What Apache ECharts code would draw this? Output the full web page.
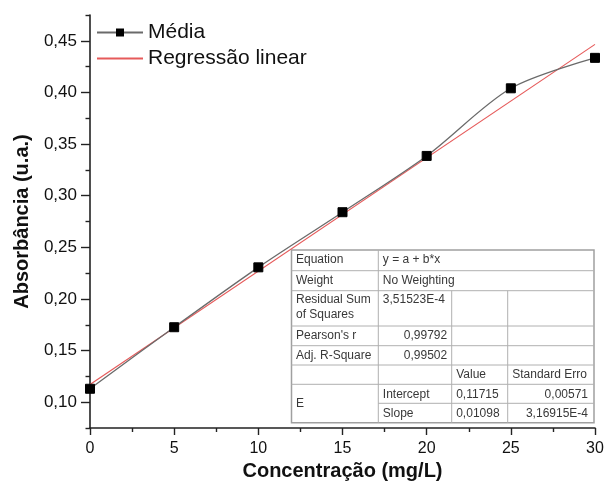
<!DOCTYPE html>
<html>
<head>
<meta charset="utf-8">
<script src="https://cdn.jsdelivr.net/npm/echarts@6/dist/echarts.min.js"></script>
<style>
  html, body { margin: 0; padding: 0; background: #ffffff; }
  #chart { width: 606px; height: 483px; }
</style>
</head>
<body>
<div id="chart"></div>
<script>
// Calibration data: mean absorbance per standard concentration
const concentracao = [0, 5, 10, 15, 20, 25, 30];
const media = [0.113, 0.1726, 0.2306, 0.284, 0.3385, 0.404, 0.4335];

// Linear fit coefficients (as reported in the fit table)
const fitIntercept = 0.11715;
const fitSlope = 0.01098;
const fitRange = [0, 30];

// Axis ticks
const xTicks = [0, 5, 10, 15, 20, 25, 30];
const yMajorTicks = [0.10, 0.15, 0.20, 0.25, 0.30, 0.35, 0.40, 0.45];
const yMinorTicks = [0.075, 0.125, 0.175, 0.225, 0.275, 0.325, 0.375, 0.425, 0.475];

// Fit report table contents
const tableLabels = ['Equation', 'Weight', 'Residual Sum\nof Squares', "Pearson's r", 'Adj. R-Square'];
const tableInfo = ['y = a + b*x', 'No Weighting', '3,51523E-4', '0,99792', '0,99502'];
const tableHeader = ['Value', 'Standard Erro'];
const paramGroup = 'E';
const paramNames = ['Intercept', 'Slope'];
const paramValues = ['0,11715', '0,01098'];
const paramErrors = ['0,00571', '3,16915E-4'];

const FONT = '"Liberation Sans", Arial, Helvetica, sans-serif';
const fmt = v => v.toFixed(2).replace('.', ',');

const fitLine = fitRange.map(x => [x, fitIntercept + fitSlope * x]);

// ---- fit table built from graphic primitives ----
function buildTable() {
  const ox = 291.5, oy = 250;
  const cols = [0, 86.8, 160.2, 216.2, 302.5];
  const rows = [0, 20.7, 40.7, 76, 95.7, 115, 134.3, 153.3, 172.7];
  const W = cols[4], H = rows[8];
  const lineStyle = { stroke: '#b0b0b0', lineWidth: 1 };
  const els = [];
  els.push({ type: 'rect', shape: { x: 0, y: 0, width: W, height: H },
             style: { fill: '#ffffff', stroke: '#a0a0a0', lineWidth: 1.5 } });
  // horizontal rules
  for (let i = 1; i < rows.length - 1; i++) {
    const x1 = (i === 7) ? cols[1] : 0;
    els.push({ type: 'line', shape: { x1: x1, y1: rows[i], x2: W, y2: rows[i] }, style: lineStyle });
  }
  // vertical rules
  els.push({ type: 'line', shape: { x1: cols[1], y1: 0, x2: cols[1], y2: H }, style: lineStyle });
  els.push({ type: 'line', shape: { x1: cols[2], y1: rows[2], x2: cols[2], y2: H }, style: lineStyle });
  els.push({ type: 'line', shape: { x1: cols[3], y1: rows[2], x2: cols[3], y2: H }, style: lineStyle });

  const txt = (s, x, y, align, vAlign) => ({
    type: 'text',
    style: { text: s, x: x, y: y, align: align || 'left', verticalAlign: vAlign || 'middle',
             font: '12px ' + FONT, fill: '#383838', lineHeight: 15 }
  });
  const pad = 4.5;
  // left label column
  tableLabels.forEach((s, i) => {
    if (s.indexOf('\n') >= 0) {
      els.push(txt(s, pad, rows[i] + 1.5, 'left', 'top'));
    } else {
      els.push(txt(s, pad, rows[i] + 10, 'left'));
    }
  });
  // info column
  els.push(txt(tableInfo[0], cols[1] + pad, rows[0] + 10));
  els.push(txt(tableInfo[1], cols[1] + pad, rows[1] + 10));
  els.push(txt(tableInfo[2], cols[1] + pad, rows[2] + 9));
  els.push(txt(tableInfo[3], cols[2] - pad, rows[3] + 10, 'right'));
  els.push(txt(tableInfo[4], cols[2] - pad, rows[4] + 10, 'right'));
  // header
  els.push(txt(tableHeader[0], cols[2] + pad, rows[5] + 10));
  els.push(txt(tableHeader[1], cols[3] + pad, rows[5] + 10));
  // parameters
  els.push(txt(paramGroup, pad, (rows[6] + rows[8]) / 2));
  paramNames.forEach((s, i) => {
    const yc = rows[6 + i] + 10;
    els.push(txt(s, cols[1] + pad, yc));
    els.push(txt(paramValues[i], cols[2] + pad, yc));
    els.push(txt(paramErrors[i], W - 6, yc, 'right'));
  });
  return { type: 'group', x: ox, y: oy, z: 100, children: els };
}

const chart = echarts.init(document.getElementById('chart'), null, { renderer: 'canvas' });

const axisLineStyle = { color: '#222222', width: 1.6 };
const tickStyle = { color: '#222222', width: 1.4 };

chart.setOption({
  backgroundColor: '#ffffff',
  animation: false,
  textStyle: { fontFamily: FONT },
  grid: { left: 90, right: 11, top: 15, bottom: 55, containLabel: false, outerBoundsMode: 'none' },
  legend: {
    orient: 'vertical',
    left: 96,
    top: 22,
    padding: 0,
    itemWidth: 46,
    itemHeight: 10,
    itemGap: 5,
    textStyle: { fontSize: 21, color: '#111111', fontFamily: FONT },
    data: [
      { name: 'Média' },
      { name: 'Regressão linear', itemStyle: { opacity: 0 } }
    ]
  },
  xAxis: {
    type: 'value',
    min: 0,
    max: 30,
    interval: 5,
    name: 'Concentração (mg/L)',
    nameLocation: 'middle',
    nameGap: 33,
    nameTextStyle: { fontSize: 20, fontWeight: 'bold', color: '#111111', fontFamily: FONT },
    axisLine: { show: true, onZero: false, lineStyle: axisLineStyle },
    axisTick: { show: true, length: 7, lineStyle: tickStyle },
    minorTick: { show: true, splitNumber: 2, length: 4, lineStyle: tickStyle },
    axisLabel: { fontSize: 16, color: '#111111', margin: 13, fontFamily: FONT,
                 customValues: xTicks, formatter: v => String(v) },
    splitLine: { show: false },
    minorSplitLine: { show: false }
  },
  yAxis: [
    {
      type: 'value',
      min: 0.075,
      max: 0.475,
      position: 'left',
      name: 'Absorbância (u.a.)',
      nameLocation: 'middle',
      nameGap: 58,
      nameTextStyle: { fontSize: 20, fontWeight: 'bold', color: '#111111', fontFamily: FONT },
      axisLine: { show: true, onZero: false, lineStyle: axisLineStyle },
      axisTick: { show: true, length: 9, customValues: yMajorTicks, lineStyle: tickStyle },
      axisLabel: { fontSize: 17, color: '#111111', margin: 13, fontFamily: FONT,
                   customValues: yMajorTicks, formatter: v => fmt(v) },
      splitLine: { show: false }
    },
    {
      type: 'value',
      min: 0.075,
      max: 0.475,
      position: 'left',
      offset: 0,
      axisLine: { show: false },
      axisTick: { show: true, length: 4.5, customValues: yMinorTicks, lineStyle: tickStyle },
      axisLabel: { show: false },
      splitLine: { show: false }
    }
  ],
  series: [
    {
      name: 'Regressão linear',
      type: 'line',
      data: fitLine,
      showSymbol: false,
      symbol: 'none',
      lineStyle: { color: '#e65a5a', width: 1.2 },
      itemStyle: { color: '#e65a5a' },
      z: 3
    },
    {
      name: 'Média',
      type: 'line',
      data: concentracao.map((x, i) => [x, media[i]]),
      smooth: 0.3,
      symbol: 'rect',
      symbolSize: 9,
      clip: false,
      lineStyle: { color: '#6a6a6a', width: 1.3 },
      itemStyle: { color: '#000000', borderColor: '#000000' },
      z: 4
    }
  ],
  graphic: [buildTable()]
});
</script>
</body>
</html>
